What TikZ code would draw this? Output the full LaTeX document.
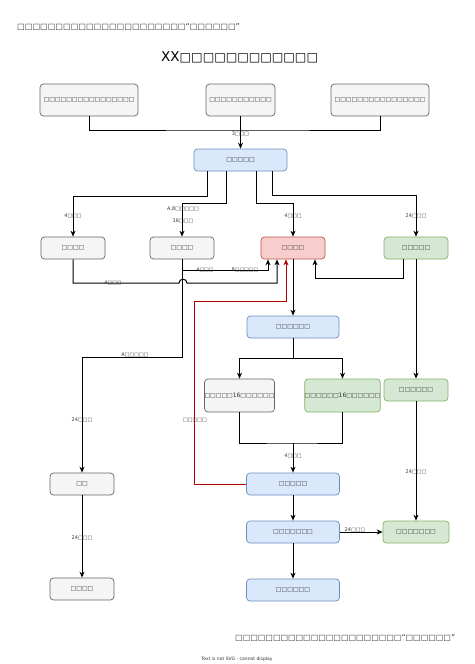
\documentclass[tikz,border=0pt]{standalone}
\usepackage{fontspec}
\usetikzlibrary{arrows.meta}
\newfontfamily\dv{DejaVu Sans}
\definecolor{gfill}{HTML}{F5F5F5}\definecolor{gline}{HTML}{666666}
\definecolor{bfill}{HTML}{DAE8FC}\definecolor{bline}{HTML}{6C8EBF}
\definecolor{rfill}{HTML}{F8CECC}\definecolor{rline}{HTML}{B85450}
\definecolor{nfill}{HTML}{D5E8D4}\definecolor{nline}{HTML}{82B366}
\definecolor{txtc}{HTML}{333333}\definecolor{redc}{HTML}{B20000}
\tikzset{
  fbox/.style={draw, rounded corners=3.5pt, line width=0.7pt, inner sep=0pt, minimum height=22pt,
    text=txtc, font=\dv\fontsize{6}{7}\selectfont},
  gbox/.style={fbox, fill=gfill, draw=gline},
  bbox/.style={fbox, fill=bfill, draw=bline},
  rbox/.style={fbox, fill=rfill, draw=rline},
  nbox/.style={fbox, fill=nfill, draw=nline},
  conn/.style={line width=1pt, draw=black},
  arr/.style={conn, -{Stealth[length=6pt,width=5pt]}},
  redarr/.style={line width=1pt, draw=redc, -{Stealth[length=6pt,width=5pt]}},
  lbl/.style={font=\dv\fontsize{5}{6}\selectfont, text=txtc, inner sep=0pt},
}
\begin{document}
\begin{tikzpicture}[x=1pt,y=-1pt]
\useasboundingbox (0,0) rectangle (474,664);
% texts
\node[anchor=west, font=\dv\fontsize{8.1}{10}\selectfont, text=txtc, inner sep=0] (t1) at (17,27) {□□□□□□□□□□□□□□□□□□□□□□“□□□□□□”};
\node[anchor=west, font=\dv\fontsize{13.5}{15}\selectfont, text=black, inner sep=0] (title) at (161,57) {XX{\fontsize{12.2}{15}\selectfont □□□□□□□□□□□□}};
\node[anchor=west, font=\dv\fontsize{8}{10}\selectfont, text=txtc, inner sep=0] (t2) at (235,638) {□□□□□□□□□□□□□□□□□□□□□□“□□□□□□”};
\node[font=\dv\fontsize{4.5}{5}\selectfont, text=txtc, inner sep=0] (t3) at (237,659) {Text is not SVG - cannot display};
% nodes
\node[gbox, minimum width=98pt, minimum height=32pt] (A1) at (89,100) {□□□□□□□□□□□□□□□□};
\node[gbox, minimum width=69pt, minimum height=32pt] (A2) at (240.5,100) {□□□□□□□□□□□};
\node[gbox, minimum width=98pt, minimum height=32pt] (A3) at (380,100) {□□□□□□□□□□□□□□□□};
\node[bbox, minimum width=93pt] (B) at (240.5,160) {□□□□□};
\node[gbox, minimum width=64pt] (C1) at (73,248) {□□□□};
\node[gbox, minimum width=64pt] (C2) at (182,248) {□□□□};
\node[rbox, minimum width=64pt] (C3) at (293,248) {□□□□};
\node[nbox, minimum width=64pt] (C4) at (416,248) {□□□□□};
\node[bbox, minimum width=92pt] (D) at (293,327) {□□□□□□};
\node[gbox, minimum width=65pt, minimum height=33pt] (F1) at (239.5,395.5) {□□□□□16□□□□□□};
\node[nbox, minimum width=65pt, minimum height=33pt] (F2) at (342.5,395.5) {□□□□□□16□□□□□□};
\node[nbox, minimum width=64pt] (R1) at (416,390) {□□□□□□};
\node[bbox, minimum width=93pt] (G1) at (293,484) {□□□□□};
\node[bbox, minimum width=93pt] (G2) at (293,532) {□□□□□□□};
\node[bbox, minimum width=93pt] (G3) at (293,590) {□□□□□□};
\node[nbox, minimum width=66pt] (H2) at (416,532) {□□□□□□□};
\node[gbox, minimum width=64pt] (E1) at (82,484) {□□};
\node[gbox, minimum width=64pt] (E2) at (82,589) {□□□□};
% connectors
\coordinate (j1) at (240.5,130);
\draw[conn] (A1.south) |- (j1) -| (A3.south);
\draw[arr] (A2.south) -- (B.north);
\node[lbl] (l1) at (240.5,134) {3□□□};
\draw[arr] ([xshift=-33]B.south) -- ++(0,25) -| (C1.north);
\draw[arr] ([xshift=-14]B.south) -- ++(0,32) -| (C2.north);
\draw[arr] ([xshift=16]B.south) -- ++(0,32) -| (C3.north);
\draw[arr] ([xshift=32]B.south) -- ++(0,24) -| (C4.north);
\node[lbl] (l2) at (73,216) {4□□□};
\node[lbl] (l3) at (183,209) {A,8□□□□□};
\node[lbl] (l4) at (183,221) {16□□□};
\node[lbl] (l5) at (293,216) {4□□□};
\node[lbl] (l6) at (416,216) {24□□□};
% C2 -> C3
\draw[arr] (C2.south) -- ++(0,11) -| ([xshift=-25]C3.south);
\node[lbl] (l7) at (205,270) {4□□□};
\node[lbl] (l8) at (245,270) {8□□□□□};
% C1 -> C3 with hop
\draw[arr] (C1.south) |- (179,283) .. controls (179,278) and (187,278) .. (187,283) -| ([xshift=-16]C3.south);
\node[lbl] (l9) at (113,283) {4□□□};
% C4 -> C3
\draw[arr] ([xshift=-13]C4.south) -- ++(0,19) -| ([xshift=22]C3.south);
% C2 -> E1
\draw[arr] (C2.south) -- ++(0,98) -| (E1.north);
\node[lbl] (l10) at (135,355) {A□□□□□};
\node[lbl] (l11) at (82,420) {24□□□};
\draw[arr] (E1.south) -- (E2.north);
\node[lbl] (l12) at (82,538) {24□□□};
% red feedback
\draw[redarr] (G1.west) -| (194,301) -| ([xshift=-7]C3.south);
\node[lbl] (l13) at (195,420) {□□□□□};
% main chain
\draw[arr] (C3.south) -- (D.north);
\draw[arr] (D.south) -- ++(0,20) -| (F1.north);
\draw[arr] (D.south) -- ++(0,20) -| (F2.north);
\coordinate (m) at (293,443);
\draw[conn] (F1.south) |- (m) -| (F2.south);
\draw[arr] (m) -- (G1.north);
\node[lbl] (l14) at (293,456) {4□□□};
\draw[arr] (G1.south) -- (G2.north);
\draw[arr] (G2.south) -- (G3.north);
\draw[arr] (G2.east) -- (H2.west);
\node[lbl] (l15) at (355,530) {24□□□};
\draw[arr] (C4.south) -- (R1.north);
\draw[arr] (R1.south) -- (H2.north);
\node[lbl] (l16) at (416,472) {24□□□};
\end{tikzpicture}
\end{document}
